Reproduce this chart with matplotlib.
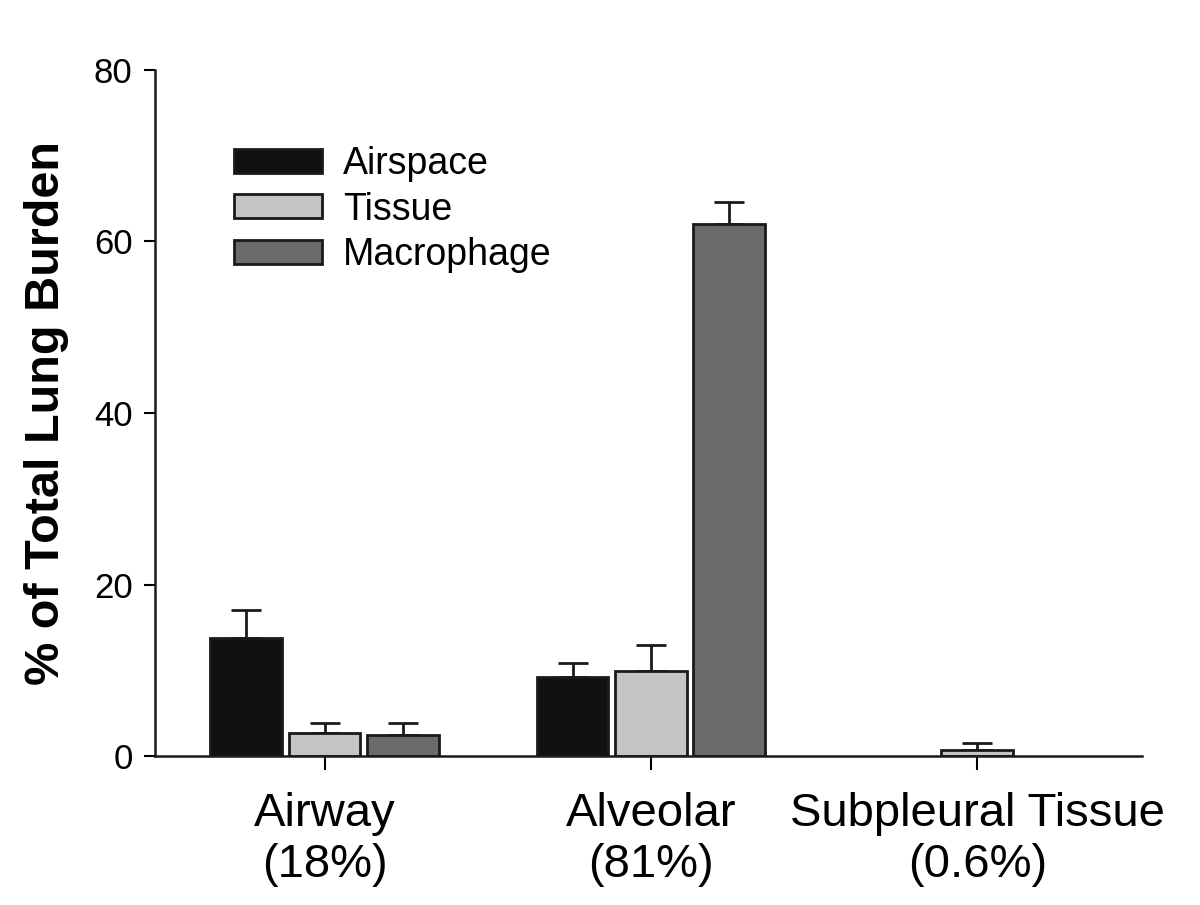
import numpy as np
import matplotlib
matplotlib.use("Agg")
import matplotlib.pyplot as plt

plt.rcParams["font.family"] = ["Liberation Sans", "DejaVu Sans"]

categories = ["Airway\n(18%)", "Alveolar\n(81%)", "Subpleural Tissue\n(0.6%)"]
series = ["Airspace", "Tissue", "Macrophage"]
values = {
    "Airspace": [13.8, 9.2, 0.0],
    "Tissue": [2.7, 9.9, 0.7],
    "Macrophage": [2.4, 62.0, 0.0],
}
errors = {
    "Airspace": [3.2, 1.6, 0.0],
    "Tissue": [1.2, 3.1, 0.8],
    "Macrophage": [1.4, 2.6, 0.0],
}
colors = {"Airspace": "#111111", "Tissue": "#c4c4c4", "Macrophage": "#6a6a6a"}

fig = plt.figure(figsize=(12, 9.05), dpi=100)
ax = fig.add_axes([0.129, 0.1646, 0.823, 0.7581])

x = np.arange(len(categories))
width = 0.22
step = 0.24
for i, s in enumerate(series):
    pos = x + (i - 1) * step
    vals = np.array(values[s])
    errs = np.array(errors[s])
    lw = np.where(vals > 0, 2, 0)
    ax.bar(pos, vals, width, color=colors[s], edgecolor="#1a1a1a",
           linewidth=lw, label=s, zorder=2)
    show = errs > 0
    ax.errorbar(pos[show], vals[show], yerr=[np.zeros(show.sum()), errs[show]],
                fmt="none", ecolor="#1a1a1a", elinewidth=2, capsize=11,
                capthick=2, zorder=1)

ax.set_xlim(-0.52, 2.506)
ax.set_ylim(0, 80)
ax.set_yticks([0, 20, 40, 60, 80])
ax.set_xticks(x)
ax.set_xticklabels(categories, fontsize=34, linespacing=1.2)
ax.tick_params(axis="y", labelsize=25, length=8, width=1.5, direction="out", pad=8)
ax.tick_params(axis="x", length=10, width=1.5, direction="out", pad=16)
for sp in ["top", "right"]:
    ax.spines[sp].set_visible(False)
for sp in ["left", "bottom"]:
    ax.spines[sp].set_linewidth(1.8)
    ax.spines[sp].set_color("#1a1a1a")

ax.set_ylabel("% of Total Lung Burden", fontsize=35, fontweight="bold", labelpad=18)

leg = ax.legend(loc="upper left", bbox_to_anchor=(0.046, 0.938), frameon=False,
                fontsize=27, handlelength=2.35, handleheight=0.6, handletextpad=0.55,
                labelspacing=0.25)
for h in leg.legend_handles:
    h.set_linewidth(2)

fig.savefig("out.png", dpi=100)
